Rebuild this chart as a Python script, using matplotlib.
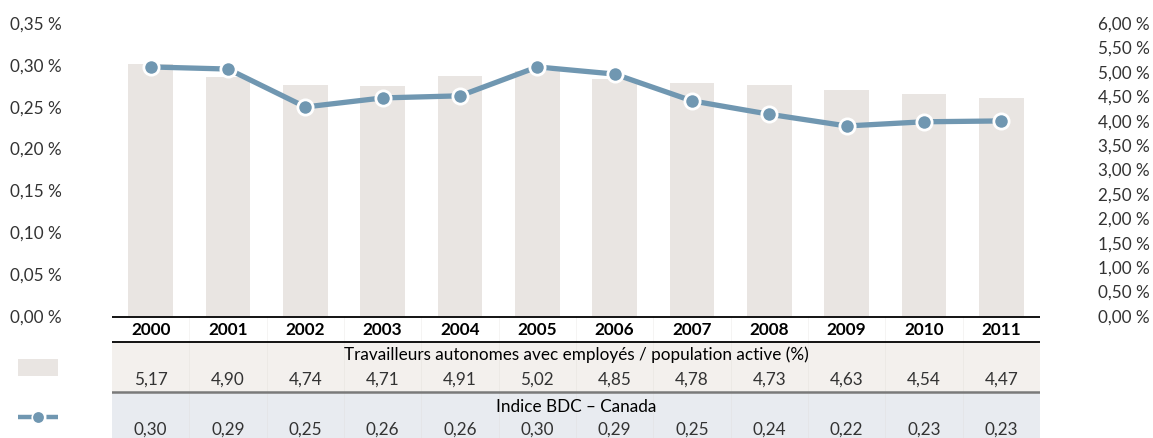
import matplotlib
matplotlib.use("Agg")
import matplotlib.pyplot as plt
from matplotlib.patches import Rectangle
from matplotlib.lines import Line2D

plt.rcParams['font.family'] = ['Lato', 'DejaVu Sans']

years = ['2000', '2001', '2002', '2003', '2004', '2005', '2006', '2007', '2008', '2009', '2010', '2011']
travailleurs = [5.17, 4.90, 4.74, 4.71, 4.91, 5.02, 4.85, 4.78, 4.73, 4.63, 4.54, 4.47]
indice_bdc = [0.2975, 0.295, 0.2497, 0.2605, 0.263, 0.2975, 0.289, 0.257, 0.241, 0.227, 0.232, 0.233]
travailleurs_labels = ['5,17', '4,90', '4,74', '4,71', '4,91', '5,02', '4,85', '4,78', '4,73', '4,63', '4,54', '4,47']
indice_labels = ['0,30', '0,29', '0,25', '0,26', '0,26', '0,30', '0,29', '0,25', '0,24', '0,22', '0,23', '0,23']
left_ticks = [0.00, 0.05, 0.10, 0.15, 0.20, 0.25, 0.30, 0.35]
right_ticks = [0.0, 0.5, 1.0, 1.5, 2.0, 2.5, 3.0, 3.5, 4.0, 4.5, 5.0, 5.5, 6.0]
row1_title = 'Travailleurs autonomes avec employés / population active (%)'
row2_title = 'Indice BDC – Canada'

W, H = 1153, 438
BAR_C = '#e9e5e2'
LINE_C = '#7097b1'
ROW1_BG = '#f3f0ed'
ROW2_BG = '#e8ebf0'
TXT = '#333333'
FS = 12.3

fig = plt.figure(figsize=(W / 100, H / 100), dpi=100)
x0, x1 = 112, 1040
ytop, ybot = 23, 316
ax = fig.add_axes([x0 / W, (H - ybot) / H, (x1 - x0) / W, (ybot - ytop) / H])
ax2 = ax.twinx()
ax.set_zorder(ax2.get_zorder() + 1)
ax.patch.set_visible(False)

xs = list(range(len(years)))
ax2.bar(xs, travailleurs, width=0.58, color=BAR_C, zorder=1)
ax.plot(xs, indice_bdc, color=LINE_C, lw=3.8, marker='o', markersize=11,
        markerfacecolor=LINE_C, markeredgecolor='white', markeredgewidth=2, zorder=3)

ax.set_xlim(-0.5, len(years) - 0.5)
ax.set_ylim(0, 0.35)
ax2.set_ylim(0, 6.0)
ax.set_yticks(left_ticks)
ax.set_yticklabels([f"{v:.2f} %".replace('.', ',') for v in left_ticks])
ax2.set_yticks(right_ticks)
ax2.set_yticklabels([f"{v:.2f} %".replace('.', ',') for v in right_ticks])
ax.set_xticks([])
for a in (ax, ax2):
    for s in a.spines.values():
        s.set_visible(False)
ax.tick_params(axis='y', length=0, pad=36, labelsize=FS, labelcolor=TXT)
ax2.tick_params(axis='y', length=0, pad=79, labelsize=FS, labelcolor=TXT)
for lab in ax2.get_yticklabels():
    lab.set_horizontalalignment('right')

# table area
th = H - ybot
axt = fig.add_axes([x0 / W, 0, (x1 - x0) / W, th / H])
axt.set_xlim(-0.5, len(years) - 0.5)
axt.set_ylim(th, 0)
axt.axis('off')
axt.axhspan(26, 76, color=ROW1_BG, zorder=0)
axt.axhspan(76, th, color=ROW2_BG, zorder=0)
for k in range(1, len(years)):
    axt.plot([k - 0.5, k - 0.5], [0, th], color='#d8d4d0', lw=0.5, alpha=0.35, zorder=1)
axt.axhline(0.5, color='black', lw=1.3, zorder=2)
axt.axhline(26, color='black', lw=1.3, zorder=2)
axt.axhline(76, color='#7a7a7a', lw=1.8, zorder=2)
for i in xs:
    axt.text(i, 14, years[i], ha='center', va='center', fontsize=FS, fontweight='bold', color='black')
    axt.text(i, 64, travailleurs_labels[i], ha='center', va='center', fontsize=FS, color=TXT)
    axt.text(i, 114, indice_labels[i], ha='center', va='center', fontsize=FS, color=TXT)
mid = (len(years) - 1) / 2
axt.text(mid, 39, row1_title, ha='center', va='center', fontsize=FS, color='black')
axt.text(mid, 91, row2_title, ha='center', va='center', fontsize=FS, color='black')

# legend icons
axl = fig.add_axes([0, 0, x0 / W, th / H])
axl.set_xlim(0, x0)
axl.set_ylim(th, 0)
axl.axis('off')
axl.add_patch(Rectangle((18, 43), 40, 17, color=BAR_C, lw=0))
axl.add_line(Line2D([18, 58], [101, 101], color=LINE_C, lw=3.2, dashes=(4.2, 2.2)))
axl.plot([38], [101], marker='o', markersize=9, color=LINE_C, markeredgecolor='white', markeredgewidth=1.2)

fig.savefig('out.png', dpi=100)
